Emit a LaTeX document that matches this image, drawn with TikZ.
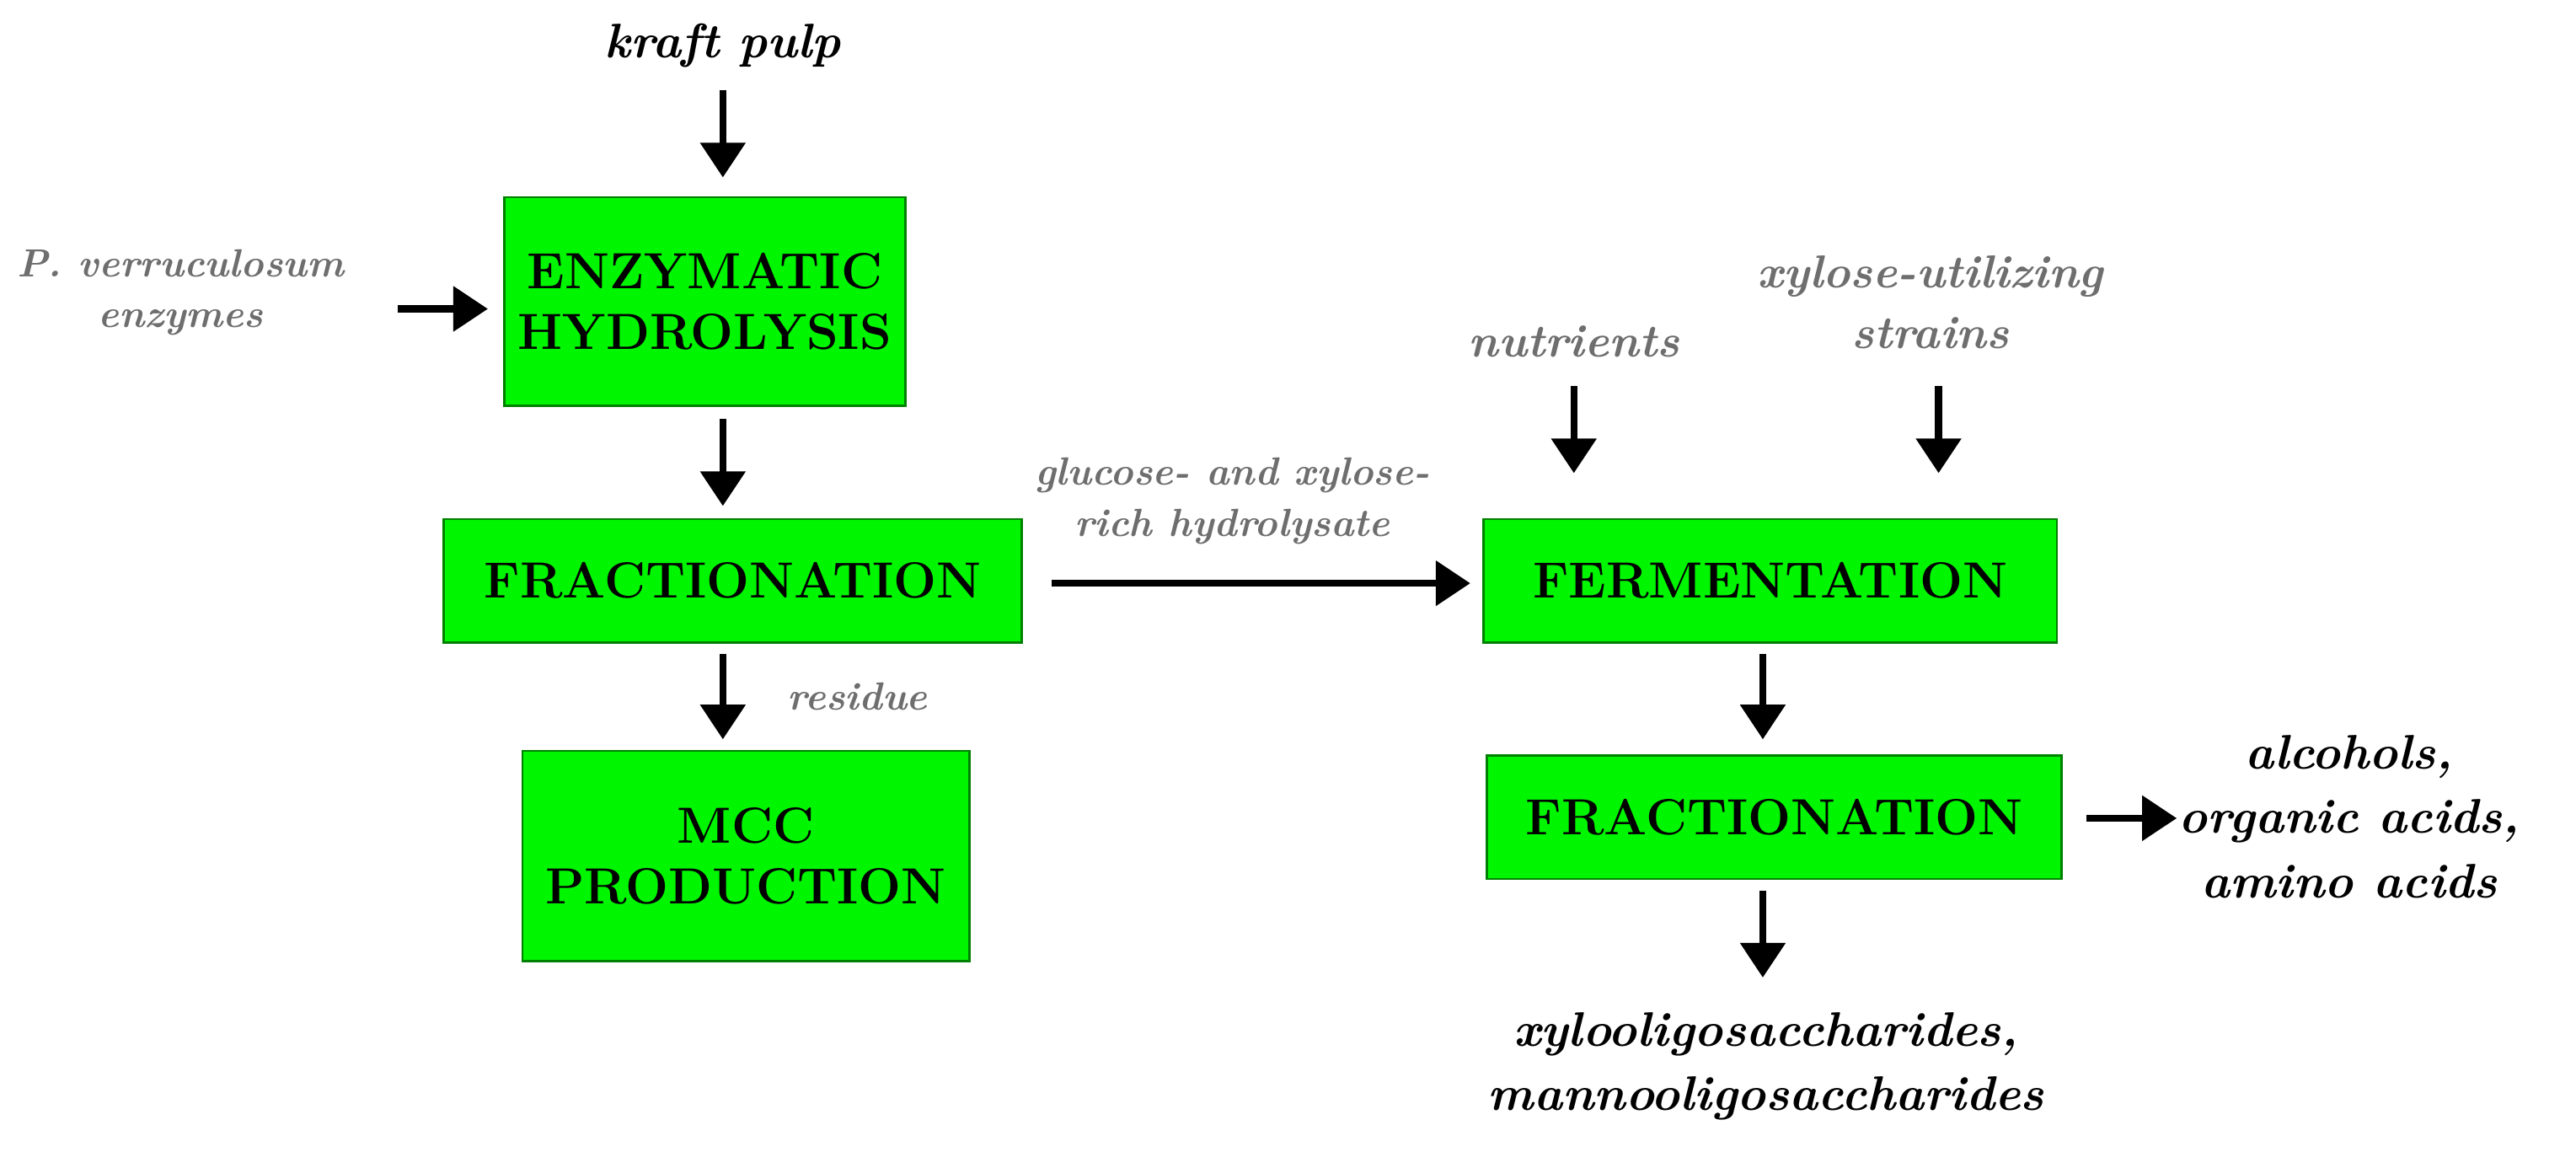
\documentclass[tikz,border=0pt]{standalone}
\usetikzlibrary{arrows.meta}
\begin{document}
\begin{tikzpicture}[x=0.05cm,y=-0.05cm,
 box/.style={draw=green!50!black,line width=2pt,fill={rgb,255:red,0;green,245;blue,0},inner sep=0pt,font=\fontsize{44}{52}\selectfont\bfseries,align=center},
 lab/.style={font=\fontsize{42}{56}\selectfont\bfseries\itshape,align=center},
 glab/.style={font=\fontsize{34}{44}\selectfont\bfseries\itshape,text={rgb,255:red,110;green,110;blue,110},align=center},
 arr/.style={line width=6pt,-{Triangle[length=30pt,width=38pt]}}]
\useasboundingbox (0,0) rectangle (1568,701);
\node[box,minimum width=244*0.05cm,minimum height=127*0.05cm] (eh) at (429,183.5) {ENZYMATIC\\HYDROLYSIS};
\node[box,minimum width=352*0.05cm,minimum height=75*0.05cm] (f1) at (446,353.5) {FRACTIONATION};
\node[box,minimum width=272*0.05cm,minimum height=128*0.05cm] (mcc) at (454,521) {MCC\\PRODUCTION};
\node[box,minimum width=349*0.05cm,minimum height=75*0.05cm] (fe) at (1077.5,353.5) {FERMENTATION};
\node[box,minimum width=350*0.05cm,minimum height=75*0.05cm] (f2) at (1080,497.5) {FRACTIONATION};
\node[lab] (kp) at (440,28) {kraft pulp};
\node[glab] (pv) at (110,178) {P. verruculosum\\enzymes};
\node[glab] (res) at (522,424) {residue};
\node[glab] (gx) at (750,305) {glucose- and xylose-\\rich hydrolysate};
\node[glab,font=\fontsize{40}{52}\selectfont\bfseries\itshape] (nu) at (958,208) {nutrients};
\node[glab,font=\fontsize{40}{52}\selectfont\bfseries\itshape] (xs) at (1175,184) {xylose-utilizing\\strains};
\node[lab] (al) at (1430,497) {alcohols,\\organic acids,\\amino acids};
\node[lab] (xo) at (1075,649) {xylooligosaccharides,\\mannooligosaccharides};
\coordinate (a1) at (440,55); \coordinate (a1e) at (440,108);
\draw[arr] (a1) -- (a1e);
\coordinate (a2) at (242,188); \coordinate (a2e) at (297,188);
\draw[arr] (a2) -- (a2e);
\coordinate (a3) at (440,255); \coordinate (a3e) at (440,308);
\draw[arr] (a3) -- (a3e);
\coordinate (a4) at (440,398); \coordinate (a4e) at (440,450);
\draw[arr] (a4) -- (a4e);
\coordinate (a5) at (640,355); \coordinate (a5e) at (895,355);
\draw[arr] (a5) -- (a5e);
\coordinate (a6) at (958,235); \coordinate (a6e) at (958,288);
\draw[arr] (a6) -- (a6e);
\coordinate (a7) at (1180,235); \coordinate (a7e) at (1180,288);
\draw[arr] (a7) -- (a7e);
\coordinate (a8) at (1073,398); \coordinate (a8e) at (1073,450);
\draw[arr] (a8) -- (a8e);
\coordinate (a9) at (1270,498); \coordinate (a9e) at (1325,498);
\draw[arr] (a9) -- (a9e);
\coordinate (a10) at (1073,542); \coordinate (a10e) at (1073,595);
\draw[arr] (a10) -- (a10e);
\end{tikzpicture}
\end{document}
